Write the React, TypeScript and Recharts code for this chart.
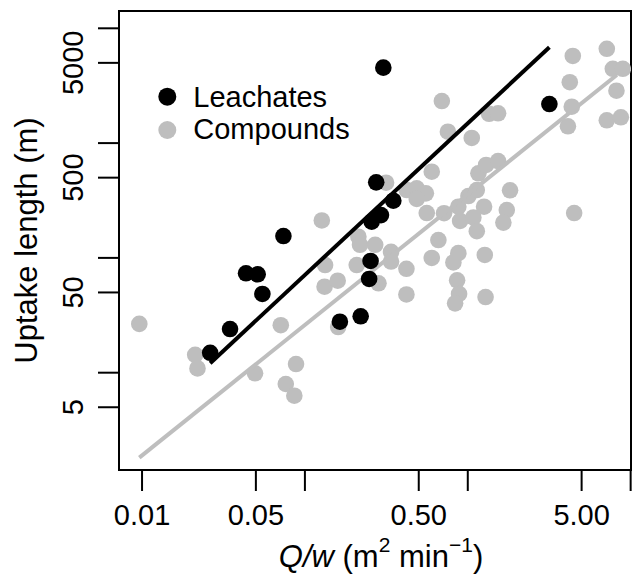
import React from 'react';
import { ScatterChart, Scatter, XAxis, YAxis, ReferenceArea, Legend } from 'recharts';

const FONT = '"Liberation Sans", Arial, Helvetica, sans-serif';

// Leachates (black)
const leachateQw = [0.0262, 0.0347, 0.0435, 0.0513, 0.0548, 0.0738, 0.164, 0.22, 0.253, 0.248, 0.257, 0.293, 0.274, 0.349, 0.303, 3.17];
const leachateLength = [14.9, 24.0, 73.4, 72.0, 48.5, 155, 27.8, 31.0, 94.0, 65.5, 207, 236, 455, 315, 4540, 2190];

// Compounds (grey)
const compoundQw = [
  0.00962, 0.0212, 0.0219, 0.0494, 0.0763, 0.0861, 0.0882, 0.0711, 0.133, 0.132,
  0.159, 0.16, 0.127, 0.213, 0.218, 0.208, 0.27, 0.338, 0.338, 0.42,
  0.283, 0.42, 0.315, 0.601, 0.422, 0.486, 0.553, 0.486, 0.56, 0.715,
  0.875, 1.009, 1.136, 1.162, 1.296, 1.535, 1.259, 1.818, 1.736, 1.654,
  0.897, 1.082, 1.136, 0.66, 0.601, 0.875, 0.816, 1.272, 0.86, 0.884,
  0.836, 1.286, 0.693, 0.755, 1.058, 1.351, 1.535, 4.5, 4.414, 7.138,
  7.77, 8.95, 4.23, 8.18, 4.35, 4.12, 7.138, 8.71,
];
const compoundLength = [
  26.6, 14.3, 10.9, 9.88, 7.97, 6.3, 11.9, 25.9, 86.7, 56.1,
  63.3, 25.0, 212, 153, 130, 86.7, 130, 113, 93.0, 80.4,
  60.1, 48.0, 452, 563, 390, 404, 365, 326, 246, 245,
  279, 346, 390, 546, 645, 698, 279, 388, 261, 203,
  210, 225, 171, 143, 99.8, 110, 91.2, 106, 63.8, 48.5,
  40.2, 45.6, 2326, 1257, 1108, 1800, 1818, 246, 5739, 6628,
  4439, 4439, 3392, 2860, 2076, 1401, 1580, 1678,
];

// Fitted lines (end points)
const leachateFitQw = [0.0262, 3.17];
const leachateFitLength = [12.1, 6830];
const compoundFitQw = [0.00962, 8.22];
const compoundFitLength = [1.82, 3920];

// Axes
const xTicks = [0.01, 0.05, 0.1, 0.5, 1, 5, 10];
const xTickLabels = ['0.01', '0.05', '', '0.50', '', '5.00', ''];
const yTicks = [5, 10, 50, 100, 500, 1000, 5000, 10000];
const yTickLabels = ['5', '', '50', '', '500', '', '5000', ''];
const xDomain = [0.00722, 10.05];
const yDomain = [1.42, 14150];

const seriesNames = ['Leachates', 'Compounds'];
const BLACK = '#000000';
const GREY = '#bebebe';

const zip = (xs: number[], ys: number[]) => xs.map((x, i) => ({ x, y: ys[i] }));

const leachateData = zip(leachateQw, leachateLength);
const compoundData = zip(compoundQw, compoundLength);
const leachateFit = zip(leachateFitQw, leachateFitLength);
const compoundFit = zip(compoundFitQw, compoundFitLength);

const labelFor = (ticks: number[], labels: string[], v: number) => {
  const i = ticks.findIndex((t) => Math.abs(t - v) / t < 1e-6);
  return i >= 0 ? labels[i] : '';
};

const XTick = (props: any) => {
  const { x, y, payload } = props;
  return (
    <text x={x} y={y + 34} textAnchor="middle" fontSize={29} fontFamily={FONT} fill="#000">
      {labelFor(xTicks, xTickLabels, payload.value)}
    </text>
  );
};

const YTick = (props: any) => {
  const { x, y, payload } = props;
  return (
    <text
      transform={`translate(${x - 14.7},${y}) rotate(-90)`}
      x={0}
      y={0}
      textAnchor="middle"
      fontSize={29}
      fontFamily={FONT}
      fill="#000"
    >
      {labelFor(yTicks, yTickLabels, payload.value)}
    </text>
  );
};

const XTitle = () => (
  <text x={381} y={566.5} textAnchor="middle" fontSize={31} fontFamily={FONT} fill="#000">
    <tspan fontStyle="italic">Q/w</tspan>
    <tspan>{' (m'}</tspan>
    <tspan dy={-15} fontSize={21}>2</tspan>
    <tspan dy={15}>{' min'}</tspan>
    <tspan dy={-15} fontSize={21}>{'\u22121'}</tspan>
    <tspan dy={15}>)</tspan>
  </text>
);

const YTitle = () => (
  <text
    transform="translate(37,240.5) rotate(-90)"
    x={0}
    y={0}
    textAnchor="middle"
    fontSize={31}
    fontFamily={FONT}
    fill="#000"
  >
    Uptake length (m)
  </text>
);

const blackDot = (p: any) => <circle cx={p.cx} cy={p.cy} r={8.3} fill={BLACK} />;
const greyDot = (p: any) => <circle cx={p.cx} cy={p.cy} r={8.3} fill={GREY} />;
const noDot = () => <g />;

const LegendBox = () => (
  <svg width={230} height={80} style={{ display: 'block', overflow: 'visible' }}>
    <circle cx={27.3} cy={21.7} r={9} fill={BLACK} />
    <text x={53.3} y={31.7} fontSize={29} fontFamily={FONT} fill="#000">
      {seriesNames[0]}
    </text>
    <circle cx={27.3} cy={55} r={9} fill={GREY} />
    <text x={53.3} y={64.3} fontSize={29} fontFamily={FONT} fill="#000">
      {seriesNames[1]}
    </text>
  </svg>
);

export default function App() {
  return (
    <div style={{ position: 'absolute', left: 0, top: 0, width: 632, height: 579, background: '#fff' }}>
      <ScatterChart width={632} height={579} margin={{ top: 11, right: 1, bottom: 0, left: 0 }}>
        <XAxis
          dataKey="x"
          type="number"
          scale="log"
          domain={xDomain}
          allowDataOverflow
          ticks={xTicks}
          interval={0}
          height={109}
          tickSize={21}
          tickMargin={0}
          axisLine={false}
          tickLine={{ stroke: '#000', strokeWidth: 2 }}
          tick={<XTick />}
          label={{ content: XTitle }}
        />
        <YAxis
          dataKey="y"
          type="number"
          scale="log"
          domain={yDomain}
          allowDataOverflow
          ticks={yTicks}
          interval={0}
          width={119}
          tickSize={21}
          tickMargin={0}
          axisLine={false}
          tickLine={{ stroke: '#000', strokeWidth: 2 }}
          tick={<YTick />}
          label={{ content: YTitle }}
        />
        <Scatter name={seriesNames[1]} data={compoundData} shape={greyDot} isAnimationActive={false} />
        <Scatter
          data={compoundFit}
          shape={noDot}
          line={{ stroke: GREY, strokeWidth: 4 }}
          legendType="none"
          isAnimationActive={false}
        />
        <Scatter name={seriesNames[0]} data={leachateData} shape={blackDot} isAnimationActive={false} />
        <Scatter
          data={leachateFit}
          shape={noDot}
          line={{ stroke: BLACK, strokeWidth: 4 }}
          legendType="none"
          isAnimationActive={false}
        />
        <ReferenceArea
          x1={xDomain[0]}
          x2={xDomain[1]}
          y1={yDomain[0]}
          y2={yDomain[1]}
          fill="none"
          fillOpacity={0}
          stroke="#000"
          strokeWidth={2}
          ifOverflow="visible"
        />
        <Legend
          layout="horizontal"
          verticalAlign="middle"
          align="center"
          wrapperStyle={{ position: 'absolute', left: 140, top: 75, width: 230, height: 80, margin: 0 }}
          content={() => <LegendBox />}
        />
      </ScatterChart>
    </div>
  );
}
